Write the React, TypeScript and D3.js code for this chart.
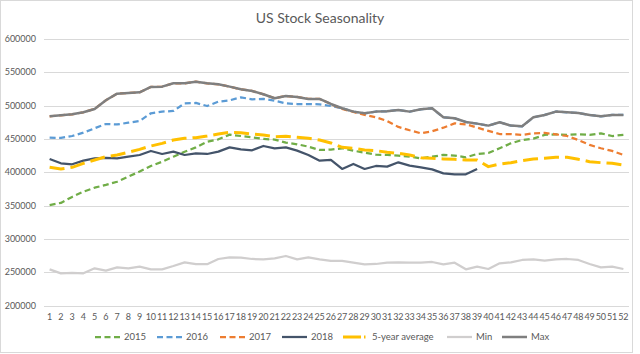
import React from "react";
import * as d3 from "d3";

const weeks = d3.range(1, 53).map(String);
const yTicks = [200000, 250000, 300000, 350000, 400000, 450000, 500000, 550000, 600000];

const s2015 = [350800, 354000, 363000, 370800, 376800, 381000, 385800, 393400, 401000, 409400, 415800, 423400, 430800, 437400, 445800, 449400, 456500, 454400, 452400, 450000, 449000, 444400, 442000, 438400, 433400, 434000, 436000, 432400, 429400, 426400, 426000, 425000, 423400, 421000, 423400, 426000, 425000, 422400, 427400, 429000, 436000, 443400, 448400, 450400, 456000, 457000, 456000, 457000, 456000, 458400, 454400, 456000];
const s2016 = [451900, 451500, 454400, 459400, 466000, 472400, 471700, 474400, 477000, 488500, 491000, 492000, 503400, 504000, 499400, 506000, 508000, 512400, 509500, 510000, 507400, 503400, 502400, 502400, 502000, 499400, 496000, 491000, 488500, 491000, 491500, 493500, 491000, 494500, 496000, 482500, 481000, 475500, 473000, 470000, 475000, 470000, 469000, 482500, 486000, 491000, 490000, 489000, 486000, 484000, 486000, 486000];
const s2017 = [484000, 485500, 487000, 490000, 495000, 508000, 518000, 519000, 520000, 528000, 528500, 533500, 533500, 536000, 533500, 532000, 528500, 524500, 522000, 517000, 511000, 514500, 513000, 510000, 510000, 502500, 495000, 490500, 486000, 482500, 477000, 468000, 463000, 458500, 461500, 466900, 473400, 472000, 467000, 462000, 457400, 457400, 456000, 458400, 459000, 457000, 454400, 448400, 441000, 436000, 432000, 426000];
const s2018 = [419900, 413400, 412000, 417400, 420900, 421700, 420900, 423400, 425900, 431900, 427400, 430900, 425900, 428400, 427400, 430900, 437400, 434400, 433000, 439400, 435900, 437400, 432400, 425900, 417400, 418400, 404900, 412400, 404900, 409400, 408400, 414900, 410000, 407400, 404400, 398400, 396900, 396900, 404900];
const sAvg = [407400, 405000, 407400, 413400, 418400, 423400, 425900, 430000, 434400, 439400, 443400, 448400, 450900, 451900, 454400, 457400, 459900, 459400, 457400, 456000, 453400, 454000, 452400, 451000, 448400, 444000, 437400, 436000, 433400, 432400, 430000, 428400, 425900, 421900, 420900, 420000, 419400, 418400, 418400, 408400, 412400, 414400, 417400, 419900, 420900, 422400, 422400, 419400, 415900, 414400, 413400, 410900];
const sMin = [254300, 248300, 248800, 248300, 255800, 252300, 257300, 255800, 258300, 254300, 254300, 259300, 264800, 262000, 262000, 269800, 272300, 271800, 269800, 269300, 270800, 274300, 269300, 272300, 269300, 267000, 267000, 264300, 261800, 262300, 264300, 264800, 264300, 264300, 265300, 261800, 264300, 254300, 258300, 254800, 263300, 264800, 268300, 269300, 267300, 269300, 269800, 268300, 262300, 257300, 258300, 254800];
const sMax = [484000, 485500, 487000, 490000, 495000, 508000, 518000, 519000, 520000, 528000, 528500, 533500, 533500, 536000, 533500, 532000, 528500, 524500, 522000, 517000, 511000, 514500, 513000, 510000, 510000, 502500, 496000, 491000, 488500, 491000, 491500, 493500, 491000, 494500, 496000, 482500, 481000, 475500, 473000, 470000, 475000, 470000, 469000, 482500, 486000, 491000, 490000, 489000, 486000, 484000, 486000, 486000];

const seriesNames = ["2015", "2016", "2017", "2018", "5-year average", "Min", "Max"];

const W = 640, H = 354;
const FONT = "Lato, 'Open Sans', sans-serif";

export default function App() {
  const x = d3.scalePoint<string>().domain(weeks).range([44, 629]).padding(0.5);
  const y = d3.scaleLinear().domain([200000, 600000]).range([305.5, 39]);

  const styles = [
    { data: s2015, color: "#70AD47", width: 2.25, dash: "6,3.5" },
    { data: s2016, color: "#5B9BD5", width: 2.25, dash: "6,3.5" },
    { data: s2017, color: "#ED7D31", width: 2.25, dash: "6,3.5" },
    { data: s2018, color: "#44546A", width: 2.25, dash: "" },
    { data: sAvg, color: "#FFC000", width: 3, dash: "15,6" },
    { data: sMin, color: "#D0CECE", width: 2.25, dash: "" },
    { data: sMax, color: "#7F7F7F", width: 2.5, dash: "" },
  ];

  const line = d3
    .line<number>()
    .x((_, i) => x(weeks[i]) as number)
    .y((d) => y(d));

  const legendX = [95, 157, 220, 282, 343, 447, 502];
  const legendY = 337;

  return (
    <svg width={W} height={H} style={{ position: "absolute", left: 0, top: 0 }} fontFamily={FONT}>
      <rect x={0} y={0} width={W} height={H} fill="#fff" />
      <rect x={0.5} y={0.5} width={632} height={352} fill="none" stroke="#D9D9D9" />
      <text x={320} y={23} textAnchor="middle" fontSize={14} fill="#595959">
        US Stock Seasonality
      </text>
      {yTicks.map((t) => (
        <g key={t}>
          <line x1={44} x2={629} y1={Math.round(y(t)) + 0.5} y2={Math.round(y(t)) + 0.5} stroke="#D9D9D9" strokeWidth={1} />
          <text x={36} y={y(t)} dy="0.35em" textAnchor="end" fontSize={9} fill="#595959">
            {t}
          </text>
        </g>
      ))}
      {weeks.map((w) => (
        <text key={w} x={x(w)} y={317} dy="0.35em" textAnchor="middle" fontSize={9} fill="#595959">
          {w}
        </text>
      ))}
      {styles.map((s, i) => (
        <path
          key={seriesNames[i]}
          d={line(s.data) || ""}
          fill="none"
          stroke={s.color}
          strokeWidth={s.width}
          strokeDasharray={s.dash || undefined}
          strokeLinejoin="round"
        />
      ))}
      {styles.map((s, i) => (
        <g key={"lg" + i}>
          <line
            x1={legendX[i]}
            x2={legendX[i] + 25}
            y1={legendY}
            y2={legendY}
            stroke={s.color}
            strokeWidth={s.width}
            strokeDasharray={s.dash ? (i === 4 ? "18,3,1.5,3" : "6,3.5") : undefined}
          />
          <text x={legendX[i] + 29} y={legendY} dy="0.35em" fontSize={9.5} fill="#595959">
            {seriesNames[i]}
          </text>
        </g>
      ))}
    </svg>
  );
}
